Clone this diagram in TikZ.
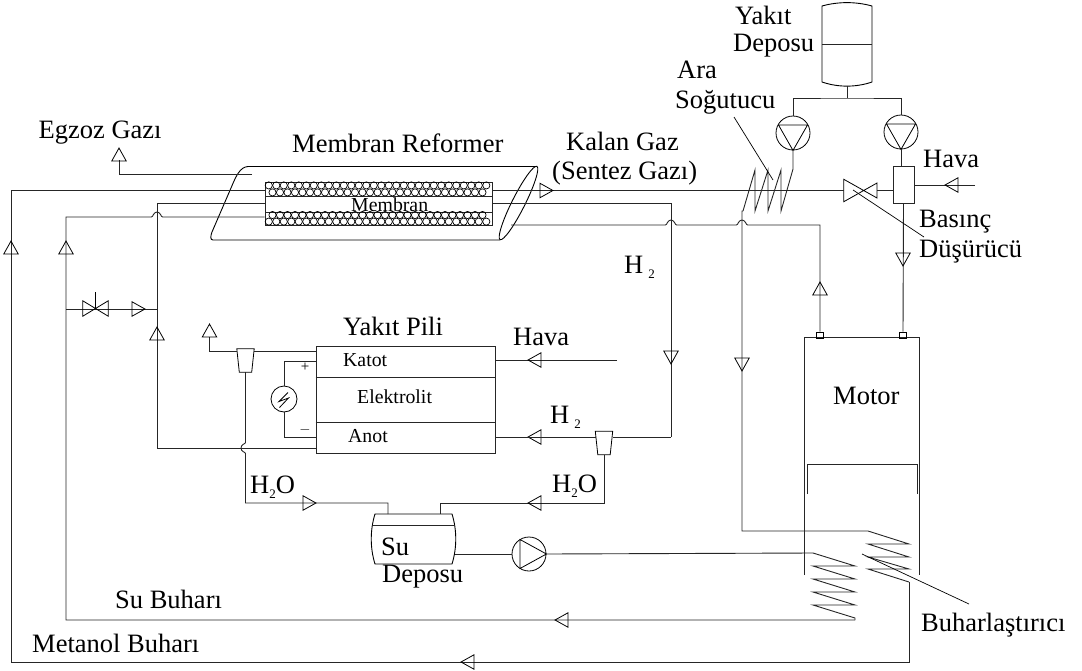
\documentclass[tikz,border=0pt]{standalone}
\usepackage{fontspec}
\setmainfont{Liberation Serif}
\usetikzlibrary{shapes.geometric}
\newcommand{\subtwo}{\raisebox{-5pt}{\fontsize{13}{13}\selectfont 2}}
\newcommand{\hop}[2]{-- (#1-5.5,#2) .. controls +(1.5,0) and +(-3.5,0) .. (#1,#2-5) .. controls +(3.5,0) and +(-1.5,0) .. (#1+5.5,#2)}

\begin{document}
\begin{tikzpicture}[x=1pt,y=-1pt]
	\tikzstyle{pipe}=[line width=0.9pt, black!85]
	\tikzstyle{lab}=[inner sep=0pt, anchor=west, font=\fontsize{26.5}{30}\selectfont, align=left]
	\tikzstyle{smalllab}=[inner sep=0pt, anchor=west, font=\fontsize{19.8}{24}\selectfont]
	\tikzstyle{flow}=[isosceles triangle, isosceles triangle stretches, draw, line width=0.8pt, inner sep=0pt, minimum width=14.5pt, minimum height=13pt, anchor=apex]
	\tikzstyle{pump}=[circle, draw, line width=0.8pt, inner sep=0pt, minimum size=34pt]
	\tikzstyle{ejector}=[rectangle, inner sep=0pt, minimum width=17pt, minimum height=23pt]
	\tikzstyle{valve}=[rectangle, inner sep=0pt]
	\tikzstyle{port}=[rectangle, draw, line width=0.8pt, inner sep=0pt, minimum width=7pt, minimum height=6pt]
	\useasboundingbox (0,0) rectangle (1082,670);

	% reformer
	\draw[line width=0.9pt] (248,166.5) .. controls (240,167) and (236,176) .. (231,188) -- (212,232) .. controls (210.5,236) and (210,240) .. (213,240) -- (500,240);
	\draw[line width=0.9pt] (248,166.5) -- (537,166.5);
	\node[ellipse, draw, line width=0.9pt, inner sep=0pt, minimum width=82pt, minimum height=13pt, rotate=63.3] (refend) at (518.5,203) {};
	\node[rectangle, draw, pipe, inner sep=0pt, minimum width=227pt, minimum height=43pt] (membrane) at (378.5,203.5) {};
	\draw[pipe] (265,196) -- (492,196) (265,212) -- (492,212);
	\foreach \i in {0,...,29} {
		\draw[line width=0.7pt] (268.8+7.5*\i,185.4) circle (3.6);
		\draw[line width=0.7pt] (268.8+7.5*\i,221.6) circle (3.6);
	}
	\foreach \i in {0,...,28} {
		\draw[line width=0.7pt] (272.5+7.5*\i,192.4) circle (3.6);
		\draw[line width=0.7pt] (272.5+7.5*\i,215) circle (3.6);
	}
	\node[smalllab] (membranlab) at (351,204.5) {Membran};
	\node[lab] (reformerlab) at (292,143) {Membran Reformer};

	% fuel tank and pumps
	\draw[line width=0.9pt] (822,6) .. controls (838,1.5) and (856,1.5) .. (872,6) -- (872,82) .. controls (856,87.5) and (838,87.5) .. (822,82) -- cycle;
	\coordinate (tanka) at (822,44);
	\coordinate (tankb) at (872,44);
	\coordinate (tankout) at (847,86);
	\coordinate (tankbar) at (847,98);
	\draw[pipe] (tanka) -- (tankb);
	\node[pump] (pumpa) at (793,133) {};
	\node[pump] (pumpb) at (901,132) {};
	\draw[line width=0.8pt] (778.5,125) -- (807.5,125) -- (pumpa.south) -- cycle;
	\draw[line width=0.8pt] (886.5,124) -- (915.5,124) -- (pumpb.south) -- cycle;
	\path[draw, pipe] (tankout) -- (tankbar);
	\draw[pipe] (pumpa.north) |- (tankbar) -| (pumpb.north);

	% intercooler coil and main line
	\coordinate (coilin) at (793,169);
	\coordinate (coilend) at (743,211);
	\draw[pipe] (pumpa.south) -- (coilin) -- (781,211) -- (781,170) -- (768,211) -- (768,170) -- (755,211) -- (755,170) -- (coilend);
	\node[valve, minimum width=33pt, minimum height=22pt] (dropvalve) at (860.5,190.5) {};
	\draw[line width=0.8pt] (dropvalve.north west) -- (dropvalve.south west) -- (877,183) -- (877,198) -- cycle;
	\node[rectangle, draw, pipe, inner sep=0pt, minimum width=21pt, minimum height=37pt] (mixer) at (903.5,184.5) {};
	\coordinate (hava) at (975,185);
	\draw[pipe] (membrane.east |- 0,190) -- (dropvalve.west |- 0,190);
	\draw[pipe] (dropvalve.east |- 0,190) -- (mixer.west |- 0,190);
	\draw[pipe] (pumpb.south) -- (mixer.north -| pumpb.south);
	\draw[pipe] (hava) -- (mixer.east |- hava);
	\node[flow, rotate=180] (fhava) at (944,185) {};
	\node[flow] (fout) at (554,190.5) {};

	% engine
	\draw[pipe] (804,575) -- (804,337.5) -- (919,337.5) -- (919,575);
	\draw[pipe] (807,494) -- (807,464) -- (917,464) -- (917,494);
	\node[port] (porta) at (820,335) {};
	\node[port] (portb) at (903,335) {};
	\node[lab] (motorlab) at (833,396) {Motor};
	\draw[pipe] (mixer.south) -- (portb.north);
	\node[flow, rotate=-90] (fportb) at (903,267) {};

	% evaporator coils
	\coordinate (evapa) at (868,531);
	\coordinate (evapb) at (909,582);
	\coordinate (evapc) at (813,553);
	\coordinate (evapd) at (855,620);
	\draw[pipe] (coilend) -- (742,211) -- (742,531) -- (evapa) -- (909,544) -- (868,544) -- (909,557) -- (868,557) -- (909,569) -- (868,569) -- (evapb);
	\draw[pipe] (evapc) -- (855,566) -- (813,566) -- (855,579) -- (813,579) -- (855,592) -- (813,592) -- (855,605) -- (813,605) -- (855,618) -- (evapd);
	\node[flow, rotate=-90] (fcoil) at (742,372) {};

	% outer lines
	\draw[pipe] (evapb) -- (909,662) -- (11,662) -- (11,190) -- (membrane.west |- 0,190);
	\draw[pipe] (evapd) -- (66,620) -- (66,217) \hop{157}{217} -- (membrane.west |- 0,217);
	\node[flow, rotate=180] (fmetanol) at (460,662) {};
	\node[flow, rotate=180] (fsu) at (554,620) {};
	\node[flow, rotate=90] (fa) at (11,240) {};
	\node[flow, rotate=90] (fb) at (66,240) {};

	% exhaust and hydrogen lines
	\draw[pipe] (252,174) -- (119,174) -- (119,160);
	\node[flow, rotate=90] (fegzoz) at (119,147) {};
	\draw[pipe] (membrane.west |- 0,203) -- (157,203) -- (157,448);
	\draw[pipe] (66,309) -- (157,309);
	\draw[line width=0.9pt] (95.5,292) -- (95.5,309);
	\node[valve, minimum width=25pt, minimum height=15pt] (bypass) at (95.5,308.5) {};
	\draw[line width=0.8pt] (bypass.north west) -- (bypass.south east) -- (bypass.north east) -- (bypass.south west) -- cycle;
	\node[flow] (fbypass) at (146,309) {};
	\node[flow, rotate=90] (fc) at (157,326) {};
	\draw[pipe] (511,225) \hop{671}{225} \hop{742}{225} -- (820,225) -- (porta.north);
	\node[flow, rotate=90] (fporta) at (820,281) {};
	\draw[pipe] (membrane.east |- 0,203) -- (671,203) -- (671,437);
	\node[flow, rotate=-90] (fh) at (671,365) {};

	% fuel cell
	\node[rectangle, draw, pipe, inner sep=0pt, minimum width=179pt, minimum height=107pt] (cell) at (405.5,399.5) {};
	\coordinate (cathodein) at (617,360);
	\coordinate (anodeline) at (316,448);
	\draw[pipe] (cell.west |- 0,377) -- (cell.east |- 0,377);
	\draw[pipe] (cell.west |- 0,422) -- (cell.east |- 0,422);
	\draw[pipe] (cathodein) -- (cell.east |- cathodein);
	\draw[pipe] (157,448) -- (anodeline);
	\node[flow, rotate=180] (fair) at (527,360) {};
	\node[ejector] (ejecta) at (245.5,360.5) {};
	\node[ejector] (ejectb) at (604,443) {};
	\draw[line width=0.8pt] (ejecta.north west) -- (ejecta.north east) -- ([xshift=-2.5pt]ejecta.south east) -- ([xshift=2.5pt]ejecta.south west) -- cycle;
	\draw[line width=0.8pt] (ejectb.north west) -- (ejectb.north east) -- ([xshift=-2.5pt]ejectb.south east) -- ([xshift=2.5pt]ejectb.south west) -- cycle;
	\node[flow, rotate=180] (fanode) at (527,437) {};
	\draw[pipe] (cell.east |- 0,437) -- (596,437);
	\draw[pipe] (613,437) -- (671,437);
	\draw[pipe] (316,351) -- (254,351);
	\draw[pipe] (237,351) -- (209.5,351) -- (209.5,337);
	\node[flow, rotate=90] (fstack) at (209.5,323) {};

	% load
	\node[circle, draw, line width=0.8pt, inner sep=0pt, minimum size=26pt] (load) at (284,399) {};
	\draw[pipe] (cell.west |- 0,361) -- (284,361) -- (load.north);
	\draw[pipe] (cell.west |- 0,437) -- (284,437) -- (load.south);
	\draw[line width=0.8pt] (288,392.5) -- (279,401.5) -- (288.5,398) -- (279.5,407.5);
	\node[inner sep=0pt, font=\fontsize{15}{15}\selectfont] (plus) at (305,367) {+};
	\node[inner sep=0pt, font=\fontsize{15}{15}\selectfont] (minus) at (305,430) {$-$};

	% water tank and return lines
	\draw[line width=0.9pt] (375,514) -- (452,514) .. controls (457,530) and (457,548) .. (452,564) -- (375,564) .. controls (370,548) and (370,530) .. (375,514) -- cycle;
	\draw[pipe] (372.5,525) -- (454.5,525);
	\coordinate (tanksuin) at (388,514);
	\coordinate (tanksuret) at (440,514);
	\coordinate (tanksuout) at (455,554);
	\draw[pipe] (ejecta.south) -- (245.5,442.5) .. controls (245.5,444) and (241,444) .. (241,448) .. controls (241,452) and (245.5,452) .. (245.5,453.5) -- (245.5,503) -- (388,503) -- (tanksuin);
	\draw[pipe] (ejectb.south) -- (604,503) -- (440,503) -- (tanksuret);
	\node[flow] (fwatera) at (317,503) {};
	\node[flow, rotate=180] (fwaterb) at (527,503) {};
	\node[circle, draw, line width=0.8pt, inner sep=0pt, minimum size=34pt] (pumpw) at (529,554) {};
	\draw[line width=0.8pt] (520,539.5) -- (520,568.5) -- (pumpw.east) -- cycle;
	\draw[pipe] (tanksuout) -- (pumpw.west);
	\draw[pipe] (pumpw.east) -- (evapc);

	% leaders
	\coordinate (aratop) at (734,117);
	\coordinate (arabot) at (773,180);
	\coordinate (bastop) at (853,190);
	\coordinate (basbot) at (924,237);
	\coordinate (buhtop) at (862,554);
	\coordinate (buhbot) at (969,604);
	\draw[line width=0.7pt] (aratop) -- (arabot);
	\draw[line width=0.7pt] (bastop) -- (basbot);
	\draw[line width=0.7pt] (buhtop) -- (buhbot);

	% labels
	\node[lab] (egzozlab) at (38.5,133) {Egzoz Gazı};
	\node[lab] (kalanlab) at (566,141) {Kalan Gaz};
	\node[lab] (sentezlab) at (552,173) {(Sentez Gazı)};
	\node[lab] (yakitlab) at (735,15) {Yakıt};
	\node[lab] (depolab) at (733,46) {Deposu};
	\node[lab] (aralab) at (677,70) {Ara};
	\node[lab] (sogutlab) at (675,102) {Soğutucu};
	\node[lab] (havalab) at (923,159) {Hava};
	\node[lab] (basinclab) at (919,222) {Basınç};
	\node[lab] (dusurlab) at (919,252) {Düşürücü};
	\node[lab] (htwolab) at (624,267) {H\hspace{5pt}\subtwo};
	\node[lab] (pililab) at (343,326) {Yakıt Pili};
	\node[smalllab] (katotlab) at (343,360) {Katot};
	\node[smalllab] (elektlab) at (357,397) {Elektrolit};
	\node[smalllab] (anotlab) at (348,436) {Anot};
	\node[lab] (havacell) at (513,337) {Hava};
	\node[lab] (htwoalab) at (550,417) {H\hspace{5pt}\subtwo};
	\node[lab] (wateralab) at (250,487) {H\subtwo O};
	\node[lab] (waterblab) at (552,486) {H\subtwo O};
	\node[lab] (sulab) at (381,547) {Su};
	\node[lab] (sudepolab) at (382,577) {Deposu};
	\node[lab] (subuharlab) at (115,599) {Su Buharı};
	\node[lab] (metanollab) at (32,643) {Metanol Buharı};
	\node[lab] (buharlab) at (921,625) {Buharlaştırıcı};
\end{tikzpicture}
\end{document}
